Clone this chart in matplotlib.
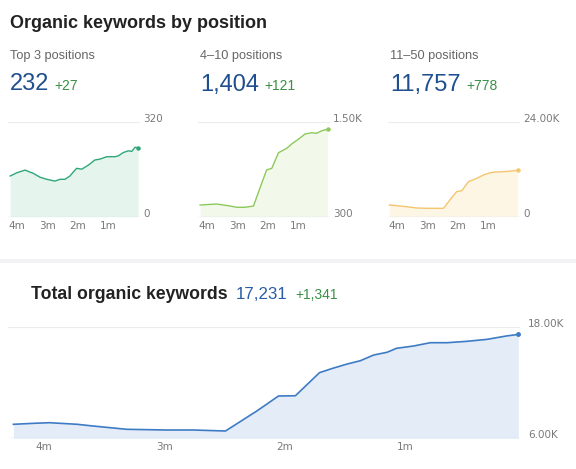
import matplotlib
matplotlib.use("Agg")
import matplotlib.pyplot as plt

W, H = 576, 469

# months ago (x) and values
top3_months = [4.22, 4.00, 3.73, 3.46, 3.24, 3.02, 2.75, 2.58, 2.42, 2.26, 2.04, 1.87,
               1.65, 1.44, 1.27, 1.05, 0.78, 0.67, 0.51, 0.34, 0.23, 0.12, 0.02]
top3_values = [137, 148, 157, 146, 133, 126, 120, 126, 126, 137, 163, 160,
               174, 191, 194, 202, 202, 205, 216, 222, 220, 234, 232]

pos4_10_months = [4.22, 3.68, 3.46, 3.24, 3.02, 2.75, 2.47, 2.26, 2.04, 1.87, 1.65,
                  1.38, 1.22, 1.00, 0.78, 0.56, 0.40, 0.23, 0.04]
pos4_10_values = [448, 460, 448, 435, 419, 419, 435, 659, 890, 911, 1108,
                  1164, 1218, 1278, 1344, 1361, 1353, 1386, 1404]

pos11_50_months = [4.24, 3.90, 3.68, 3.35, 3.02, 2.47, 2.26, 2.04, 1.87, 1.65, 1.38,
                   1.16, 0.94, 0.78, 0.45, 0.23, 0.04]
pos11_50_values = [2955, 2700, 2526, 2197, 2120, 2120, 4218, 6315, 6568, 8841, 9700,
                   10534, 11114, 11290, 11380, 11544, 11757]

total_months = [4.25, 4.08, 3.95, 3.72, 3.59, 3.31, 2.98, 2.76, 2.49, 2.23, 2.05, 1.91,
                1.71, 1.60, 1.48, 1.37, 1.26, 1.15, 1.07, 0.93, 0.79, 0.65, 0.49,
                0.32, 0.16, 0.06]
total_values = [7513, 7621, 7686, 7513, 7330, 6973, 6897, 6897, 6789, 8951, 10573, 10600,
                13095, 13567, 14030, 14390, 15005, 15297, 15730, 15977, 16335, 16335,
                16480, 16696, 17059, 17231]

tick_months = [4, 3, 2, 1]
tick_labels = ["4m", "3m", "2m", "1m"]

fig = plt.figure(figsize=(W / 100, H / 100), dpi=100)
fig.patch.set_facecolor("white")

HEAD = ["Liberation Sans", "DejaVu Sans"]
AXF = ["DejaVu Sans"]


def fx(x):
    return x / W


def fy(y):
    return 1 - y / H


def txt(x, y, s, **kw):
    fig.text(fx(x), fy(y), s, **kw)


def spark(x0, x1, y0, y1, months, values, xlim, ylim, ylabels, line, fill,
          label_x, tick_y, big=False):
    ax = fig.add_axes([fx(x0), fy(y1), (x1 - x0) / W, (y1 - y0) / H])
    ax.set_xlim(*xlim)
    ax.set_ylim(*ylim)
    ax.fill_between(months, values, ylim[0], color=fill, lw=0)
    ax.plot(months, values, color=line, lw=1.2 if big else 1.0)
    ax.plot(months[-1], values[-1], "o", color=line, ms=2.5 if big else 2.2)
    ax.axhline(ylim[1], color="#ececec", lw=0.8)
    ax.axhline(ylim[0], color="#d4e0ef", lw=1.0)
    ax.axis("off")
    ax.patch.set_alpha(0)
    for m, lab in zip(tick_months, tick_labels):
        xp = x0 + (xlim[0] - m) / (xlim[0] - xlim[1]) * (x1 - x0)
        txt(xp, tick_y, lab, fontsize=7.5, color="#7a7a7a", family=AXF,
            ha="center", va="center")
    txt(label_x, y0 - 3, ylabels[1], fontsize=7.5, color="#7a7a7a", family=AXF,
        ha="left", va="center")
    txt(label_x, y1 - 3, ylabels[0], fontsize=7.5, color="#7a7a7a", family=AXF,
        ha="left", va="center")
    return ax


# header
txt(9.5, 23, "Organic keywords by position", fontsize=13, fontweight="bold",
    color="#222222", family=HEAD, va="center")

groups = [
    (10, "Top 3 positions", "232", "+27", 54),
    (200, "4\u201310 positions", "1,404", "+121", 264),
    (390, "11\u201350 positions", "11,757", "+778", 466),
]
for gx, name, val, delta, dx in groups:
    txt(gx, 56, name, fontsize=9.2, color="#666666", family=HEAD, va="center")
    txt(gx, 90.5, val, fontsize=17, color="#1f4f8f", family=HEAD, va="baseline")
    txt(dx, 90.5, delta, fontsize=10, color="#3a8f45", family=HEAD,
        va="baseline")

# mini xlims: 0 months at px 138.8, 30.5 px per month, axes from 8 to 140
mini_xlim = (4.29, -0.04)
spark(8, 140, 121.7, 216.7, top3_months, top3_values, mini_xlim, (0, 320),
      ("0", "320"), "#2ea67a", "#e5f5ee", 143, 226)
spark(198, 330, 121.7, 216.7, pos4_10_months, pos4_10_values, mini_xlim,
      (300, 1500), ("300", "1.50K"), "#8cc85a", "#f2f8ea", 333, 226)
spark(388, 520, 121.7, 216.7, pos11_50_months, pos11_50_values, mini_xlim,
      (0, 24000), ("0", "24.00K"), "#f5c46e", "#fef6e5", 523, 226)

# separator band
sep = fig.add_axes([0, fy(263), 1, 4 / H])
sep.set_facecolor("#f2f2f4")
sep.set_xticks([])
sep.set_yticks([])
for s in sep.spines.values():
    s.set_visible(False)

txt(31, 299.3, "Total organic keywords", fontsize=12.7, fontweight="bold",
    color="#222222", family=HEAD, va="baseline")
txt(235.5, 299.3, "17,231", fontsize=12.2, color="#2a5ca8", family=HEAD,
    va="baseline")
txt(295, 299.3, "+1,341", fontsize=10, color="#3a8f45", family=HEAD,
    va="baseline")

# big chart: 0 months at px 525.5, 120.5 px per month, axes from 8 to 520
spark(8, 520, 327.3, 438.3, total_months, total_values, (4.295, 0.046),
      (6000, 18000), ("6.00K", "18.00K"), "#3d7bc4", "#e4ecf7", 528, 446.7,
      big=True)

fig.savefig("out.png", dpi=100, facecolor="white")
